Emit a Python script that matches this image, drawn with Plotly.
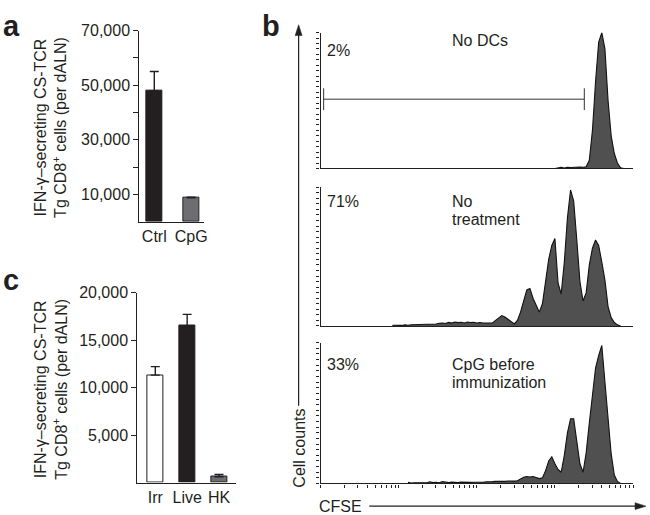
import math
import plotly.graph_objects as go

# ---------------- data ----------------
a_categories = ["Ctrl", "CpG"]
a_values = [48000, 8700]
a_errors = [7000, 250]

c_categories = ["Irr", "Live", "HK"]
c_values = [11300, 16500, 600]
c_errors = [900, 1200, 250]

# CFSE histograms (channel 0-1000 spans 4 log decades), counts as % of panel max
h1_channels = [750, 760, 770, 780, 790, 800, 810, 820, 830, 840, 850, 860, 870,
               880, 890, 900, 910, 920, 930, 940, 950, 960, 970]
h1_counts = [0, 0.3, 0.8, 0.4, 0.9, 0.7, 1.0, 0.8, 1.1, 0.9, 1.2, 6, 28,
             64, 93, 100, 88, 50, 24, 11, 4, 0.5, 0]

h2_channels = [230, 240, 250, 260, 270, 280, 290, 300, 310, 320, 330, 340, 350,
               360, 370, 380, 390, 400, 410, 420, 430, 440, 450, 460, 470, 480,
               490, 500, 510, 520, 530, 540, 550, 560, 570, 580, 590, 600, 610,
               620, 630, 640, 650, 660, 670, 680, 690, 700, 710, 720, 730, 740,
               750, 760, 770, 780, 790, 800, 810, 820, 830, 840, 850, 860, 870,
               880, 890, 900, 910, 920, 930, 940, 950, 960]
h2_counts = [0.5, 0.3, 0.6, 0.4, 0.8, 0.5, 0.9, 1.0, 0.7, 1.2, 1.0, 1.5, 1.2,
             1.7, 1.4, 2.0, 2.2, 1.8, 2.6, 2.1, 2.8, 2.4, 2.7, 2.2, 2.9, 2.5,
             2.7, 2.2, 2.5, 2.1, 2.3, 2.5, 2.2, 4, 6, 7.5, 6.5, 5, 3.5,
             1.5, 4, 10, 18, 26, 27, 20, 15, 10, 16, 34, 48, 58,
             63, 31, 23, 46, 78, 98, 90, 62, 32, 18, 24, 44, 56,
             62, 58, 46, 33, 14, 6, 2.5, 0.8, 0]

h3_channels = [280, 290, 300, 310, 320, 330, 340, 350, 360, 370, 380, 390, 400,
               410, 420, 430, 440, 450, 460, 470, 480, 490, 500, 510, 520, 530,
               540, 550, 560, 570, 580, 590, 600, 610, 620, 630, 640, 650, 660,
               670, 680, 690, 700, 710, 720, 730, 740, 750, 760, 770, 780, 790,
               800, 810, 820, 830, 840, 850, 860, 870, 880, 890, 900, 910, 920,
               930, 940, 950, 960]
h3_counts = [0.8, 0.3, 0.5, 0.6, 0.4, 0.7, 0.5, 1.2, 0.6, 0.8, 0.5, 1.4, 0.8,
             0.6, 1.0, 0.8, 0.7, 1.0, 0.8, 1.0, 0.8, 0.9, 0.8, 1.0, 0.9, 1.2,
             1.0, 1.3, 1.5, 1.4, 1.7, 1.5, 1.8, 1.6, 1.7, 2.0, 3.5, 4.5, 5,
             4.6, 5, 4, 3.5, 4, 9, 16, 19, 14, 10, 8, 20, 36,
             46, 46, 30, 14, 8, 22, 43, 64, 82, 91, 98, 72, 44,
             21, 6, 1.5, 0]

hist_labels = [("2%", ["No DCs"]), ("71%", ["No", "treatment"]),
               ("33%", ["CpG before", "immunization"])]

# bracket in panel 1 (channel start, end, count level)
bracket = (10, 844, 51)

# ---------------- layout helpers ----------------
W, H = 650, 515
def px(x):
    return x / W
def py(y):
    return 1 - y / H

FONT = "Liberation Sans, Arial, Helvetica, sans-serif"
INK = "#231f20"
DARK = "#231f20"
GRAY = "#6d6e71"
FILL = "#505050"

fig = go.Figure()

# panel a bars
fig.add_trace(go.Bar(
    x=[0, 1], y=a_values, width=0.43,
    marker=dict(color=[DARK, GRAY], line=dict(color=INK, width=1)),
    error_y=dict(type="data", array=a_errors, arrayminus=[0, 0], symmetric=False,
                 color=INK, thickness=1.4, width=4.5),
    xaxis="x", yaxis="y", showlegend=False))

# panel c bars
fig.add_trace(go.Bar(
    x=[0, 1, 2], y=c_values, width=0.5,
    marker=dict(color=["#ffffff", DARK, GRAY], line=dict(color=INK, width=1)),
    error_y=dict(type="data", array=c_errors, arrayminus=[0, 0, 0], symmetric=False,
                 color=INK, thickness=1.4, width=4.5),
    xaxis="x2", yaxis="y2", showlegend=False))

# histograms
for i, (ch, ct) in enumerate([(h1_channels, h1_counts), (h2_channels, h2_counts),
                              (h3_channels, h3_counts)]):
    n = i + 3
    fig.add_trace(go.Scatter(
        x=ch, y=ct, mode="lines", line=dict(color="#111111", width=1.1, shape="linear"),
        fill="tozeroy", fillcolor=FILL, xaxis=f"x{n}", yaxis=f"y{n}",
        showlegend=False, hoverinfo="skip"))

tickfont = dict(family=FONT, size=16, color=INK)

layout = dict(
    width=W, height=H, margin=dict(l=0, r=0, t=0, b=0),
    paper_bgcolor="white", plot_bgcolor="rgba(0,0,0,0)",
    font=dict(family=FONT, size=16, color=INK),
    bargap=0,
)

# panel a axes
layout["xaxis"] = dict(domain=[px(140), px(205)], range=[-0.405, 1.35],
                       tickvals=[0, 1], ticktext=a_categories, ticks="",
                       showline=True, linecolor=INK, linewidth=1.2, showgrid=False,
                       zeroline=False, tickfont=tickfont, anchor="y")
layout["yaxis"] = dict(domain=[py(217), py(23)], range=[0, 70000],
                       tickvals=[10000, 30000, 50000, 70000],
                       ticktext=["10,000", "30,000", "50,000", "70,000"],
                       ticks="outside", ticklen=5, tickwidth=1.2, tickcolor=INK,
                       minor=dict(tickvals=[20000, 40000, 60000], ticks="outside",
                                  ticklen=5, tickwidth=1.2, tickcolor=INK,
                                  showgrid=False),
                       showline=True, linecolor=INK, linewidth=1.2, showgrid=False,
                       zeroline=False, tickfont=tickfont, anchor="x")
# panel c axes
layout["xaxis2"] = dict(domain=[px(138), px(237)], range=[-0.5625, 2.53],
                        tickvals=[0, 1, 2], ticktext=c_categories, ticks="",
                        showline=True, linecolor=INK, linewidth=1.2, showgrid=False,
                        zeroline=False, tickfont=tickfont, anchor="y2")
layout["yaxis2"] = dict(domain=[py(482), py(289)], range=[0, 20000],
                        tickvals=[5000, 10000, 15000, 20000],
                        ticktext=["5,000", "10,000", "15,000", "20,000"],
                        ticks="outside", ticklen=5, tickwidth=1.2, tickcolor=INK,
                        showline=True, linecolor=INK, linewidth=1.2, showgrid=False,
                        zeroline=False, tickfont=tickfont, anchor="x2")

# histogram axes
hist_rows = [(25, 163), (182, 323), (340, 483)]
log_ticks = [250 * (d + math.log10(k)) for d in range(4) for k in range(1, 10)] + [1000]
for i, (top, bot) in enumerate(hist_rows):
    n = i + 3
    xa = dict(domain=[px(322), px(636)], range=[0, 1000], showline=True,
              linecolor=INK, linewidth=1.3, showgrid=False, zeroline=False,
              showticklabels=False, anchor=f"y{n}")
    if n == 5:
        xa.update(tickvals=log_ticks, ticks="outside", ticklen=3, tickwidth=1,
                  tickcolor=INK)
    else:
        xa.update(ticks="")
    layout[f"xaxis{n}"] = xa
    layout[f"yaxis{n}"] = dict(domain=[py(bot), py(top)], range=[0, 100],
                               tick0=0, dtick=4, ticks="outside", ticklen=3,
                               tickwidth=1, tickcolor=INK, showline=True,
                               linecolor=INK, linewidth=1.3, showgrid=False,
                               zeroline=False, showticklabels=False,
                               anchor=f"x{n}")

fig.update_layout(**layout)

# bracket in panel 1 + big axis arrows
bx0, bx1, by = bracket
def ppath(points):
    return "M " + " L ".join(f"{px(x):.5f},{py(y):.5f}" for x, y in points) + " Z"

shapes = [
    dict(type="line", xref="x3", yref="y3", x0=bx0, x1=bx1, y0=by, y1=by,
         line=dict(color="#333333", width=1)),
    dict(type="line", xref="x3", yref="y3", x0=bx0, x1=bx0, y0=by - 8, y1=by + 8,
         line=dict(color="#333333", width=1)),
    dict(type="line", xref="x3", yref="y3", x0=bx1, x1=bx1, y0=by - 8, y1=by + 8,
         line=dict(color="#333333", width=1)),
    # vertical "Cell counts" arrow
    dict(type="line", xref="paper", yref="paper", x0=px(300), x1=px(300),
         y0=py(404), y1=py(26), line=dict(color=INK, width=1.2)),
    dict(type="path", xref="paper", yref="paper",
         path=ppath([(296.5, 28), (300, 17), (303.5, 28)]),
         fillcolor=INK, line=dict(color=INK, width=0.5)),
    # horizontal "CFSE" arrow
    dict(type="line", xref="paper", yref="paper", x0=px(371), x1=px(640),
         y0=py(506), y1=py(506), line=dict(color=INK, width=1.2)),
    dict(type="path", xref="paper", yref="paper",
         path=ppath([(638, 502.5), (649, 506), (638, 509.5)]),
         fillcolor=INK, line=dict(color=INK, width=0.5)),
]
fig.update_layout(shapes=shapes)

ann = []
def text(x, y, s, size=16, xanchor="left", yanchor="middle", angle=0, bold=False):
    ann.append(dict(x=px(x), y=py(y), xref="paper", yref="paper", text=s,
                    showarrow=False, xanchor=xanchor, yanchor=yanchor,
                    textangle=angle,
                    font=dict(family=FONT, size=size, color=INK,
                              weight="bold" if bold else "normal")))

# panel letters
text(1, 18, "a", size=29, bold=True)
text(261, 18, "b", size=29, bold=True)
text(1, 276, "c", size=29, bold=True)

# y titles for bar charts
ytitle = "IFN-γ–secreting CS-TCR<br>Tg CD8<sup>+</sup> cells (per dALN)"
text(51, 121, ytitle, xanchor="center", angle=-90)
text(51, 387, ytitle, xanchor="center", angle=-90)

# histogram labels
label_y = [(43, [33]), (197, [197, 215]), (362, [362, 380])]
for (pct, lines), (pyv, lys) in zip(hist_labels, label_y):
    text(327, pyv, pct)
    for ln, ly in zip(lines, lys):
        text(452, ly, ln)

# axis captions
text(300, 447, "Cell counts", xanchor="center", angle=-90)
text(318, 506, "CFSE")

fig.update_layout(annotations=ann)

fig.write_html("out.html", config={"displayModeBar": False},
               post_script="document.body.style.margin='0';document.body.style.padding='0';")
